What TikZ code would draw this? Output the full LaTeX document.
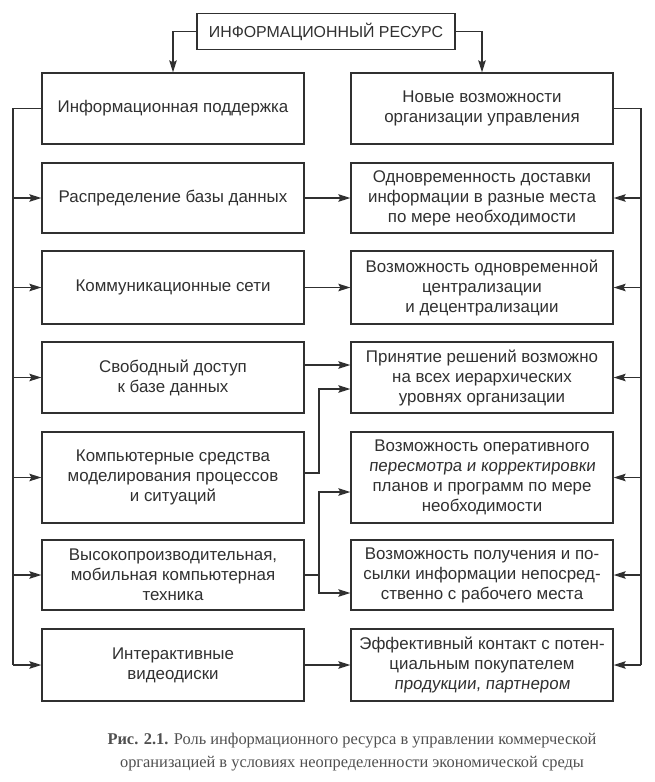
\documentclass[tikz,border=0pt]{standalone}
\usepackage{fontspec}
\setmainfont{Liberation Sans}
\newfontfamily\slantfont[FakeSlant=0.12]{Liberation Sans}
\newfontfamily\capfont{Liberation Serif}
\usetikzlibrary{arrows.meta}
\definecolor{ink}{HTML}{303030}

\begin{document}
\begin{tikzpicture}[x=1pt,y=-1pt,>={Stealth[length=12pt,width=7.5pt,inset=2pt]},
  box/.style={draw=ink,line width=1.3pt,minimum width=262pt,minimum height=#1,
    align=center,inner sep=2pt,text=ink,font=\fontsize{16.9}{20}\selectfont},
  box/.default=71pt,
  link/.style={draw=ink,line width=1.3pt}]
  \useasboundingbox (0,0) rectangle (654,782);
  \node[box=36pt,minimum width=258pt,font=\fontsize{15.9}{19}\selectfont] (res) at (326,31.5) {ИНФОРМАЦИОННЫЙ РЕСУРС};
  % left column
  \node[box] (l1) at (173,108.5) {Информационная поддержка};
  \node[box=70pt] (l2) at (173,198) {Распределение базы данных};
  \node[box=73pt] (l3) at (173,287.5) {Коммуникационные сети};
  \node[box] (l4) at (173,377.5) {Свободный доступ\\к базе данных};
  \node[box=91pt] (l5) at (173,477.5) {Компьютерные средства\\моделирования процессов\\и ситуаций};
  \node[box=70pt] (l6) at (173,575) {Высокопроизводительная,\\мобильная компьютерная\\техника};
  \node[box=72pt] (l7) at (173,665) {Интерактивные\\видеодиски};
  % right column
  \node[box] (r1) at (482,108.5) {Новые возможности\\организации управления};
  \node[box=70pt] (r2) at (482,198) {Одновременность доставки\\информации в разные места\\по мере необходимости};
  \node[box=73pt] (r3) at (482,287.5) {Возможность одновременной\\централизации\\и децентрализации};
  \node[box] (r4) at (482,377.5) {Принятие решений возможно\\на всех иерархических\\уровнях организации};
  \node[box=91pt] (r5) at (482,477.5) {Возможность оперативного\\{\slantfont пересмотра и корректировки}\\планов и программ по мере\\необходимости};
  \node[box=70pt] (r6) at (482,575) {Возможность получения и по-\\сылки информации непосред-\\ственно с рабочего места};
  \node[box=72pt] (r7) at (482,665) {Эффективный контакт с потен-\\циальным покупателем\\{\slantfont продукции, партнером}};

  \coordinate (busL) at (13,0);
  \coordinate (busR) at (641,0);
  \coordinate (jn) at (319,0);

  \draw[link,->] (res.west) -| (l1.north);
  \draw[link,->] (res.east) -| (r1.north);
  % buses
  \draw[link] (l1.west) -- (l1.west -| busL) -- (l7.west -| busL);
  \draw[link] (r1.east) -- (r1.east -| busR) -- (r7.east -| busR);
  \foreach \i in {2,...,7} {
    \draw[link,->] (l\i.west -| busL) -- (l\i.west);
    \draw[link,->] (r\i.east -| busR) -- (r\i.east);
  }
  % straight links
  \draw[link,->] (l2) -- (r2);
  \draw[link,->] (l3) -- (r3);
  \draw[link,->] ([yshift=12.5pt]l4.east) -- ([yshift=12.5pt]r4.west);
  \draw[link,->] (l7) -- (r7);
  % stepped links
  \draw[link,->] ([yshift=4.5pt]l5.east) -| ([yshift=-11.5pt]r4.west -| jn) -- ([yshift=-11.5pt]r4.west);
  \draw[link,->] (l6.east) -- (l6.east -| jn) |- ([yshift=-14.5pt]r5.west);
  \draw[link,->] (l6.east -| jn) |- ([yshift=-18pt]r6.west);

  \node[font=\capfont\fontsize{16.4}{23}\selectfont,align=center,text=ink!85] (cap) at (352,752)
    {\textbf{Рис. 2.1.} Роль информационного ресурса в управлении коммерческой\\
     организацией в условиях неопределенности экономической среды};
\end{tikzpicture}
\end{document}
